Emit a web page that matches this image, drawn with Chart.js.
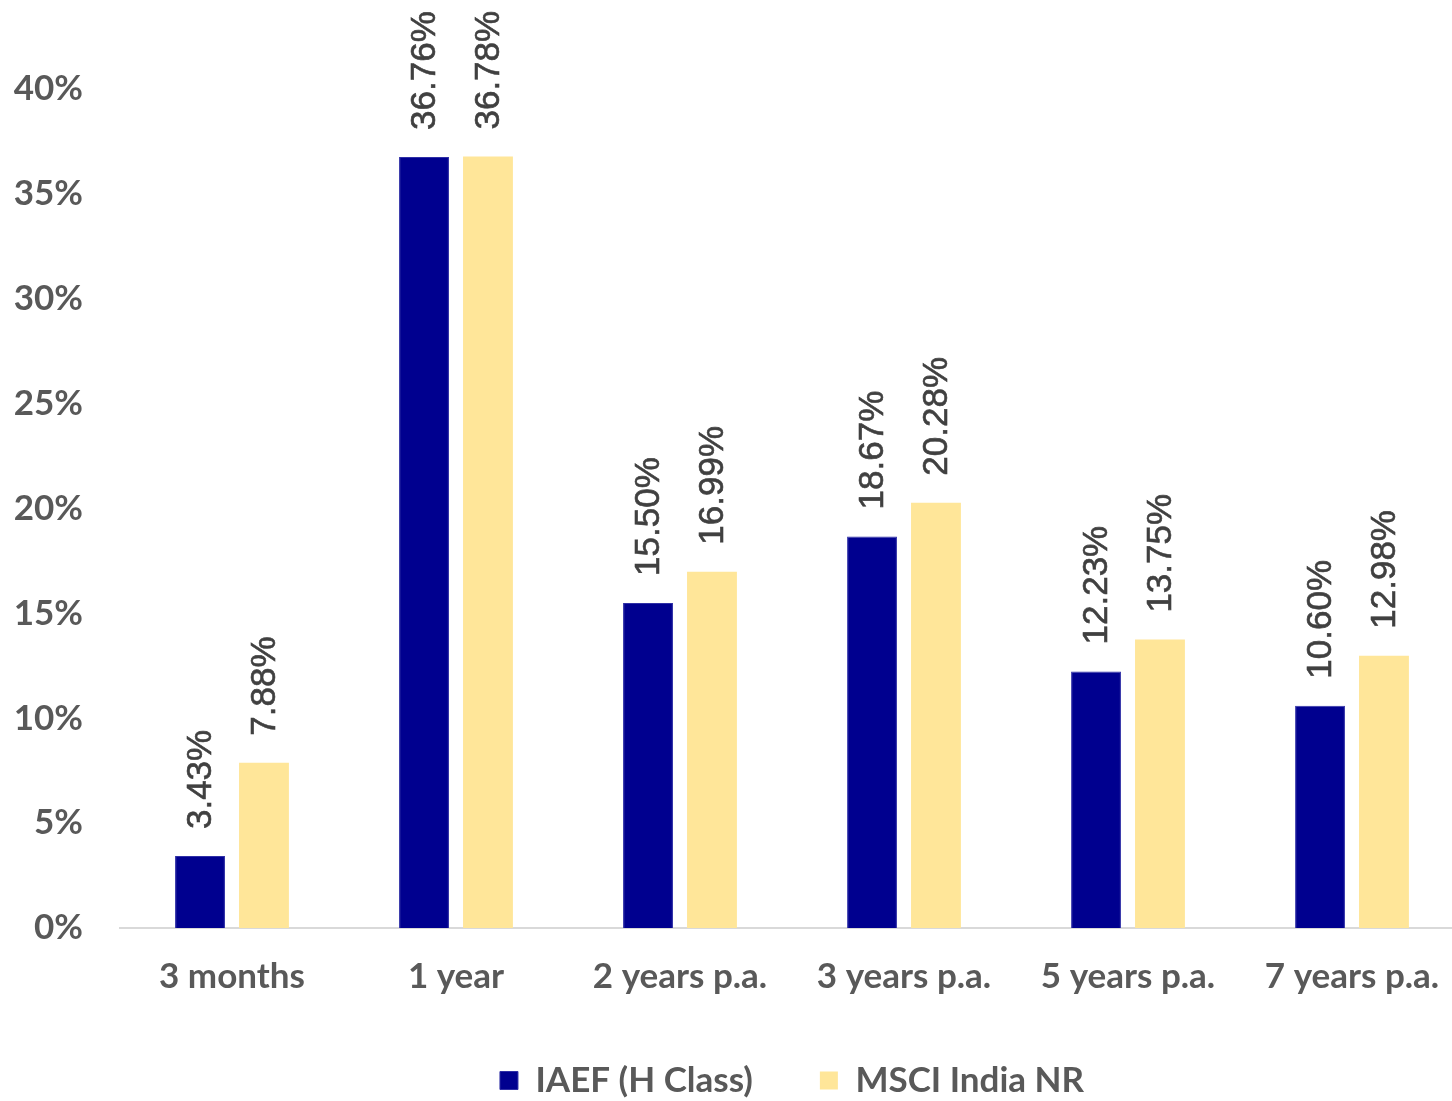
<!DOCTYPE html>
<html lang="en">
<head>
    <meta charset="UTF-8">
    <title>IAEF vs MSCI India NR</title>
    <script src="https://cdn.jsdelivr.net/npm/chart.js"></script>
    <style>
        body {
            margin: 0;
            overflow: hidden;
            background: #fff;
        }
        .chart-container {
            width: 1466px;
            height: 1101px;
        }
    </style>
</head>
<body>
    <div class="chart-container">
        <canvas id="returnsChart"></canvas>
    </div>

    <script>
        const periods = ['3 months', '1 year', '2 years p.a.', '3 years p.a.', '5 years p.a.', '7 years p.a.'];
        const iaefReturns = [3.43, 36.76, 15.50, 18.67, 12.23, 10.60];
        const msciReturns = [7.88, 36.78, 16.99, 20.28, 13.75, 12.98];
        const yTicks = [0, 5, 10, 15, 20, 25, 30, 35, 40];

        const textGrey = '#595959';
        const axisFont = { family: 'Lato', size: 35, weight: 'bold' };

        // value labels, rotated, on top of each bar
        const barLabels = {
            id: 'barLabels',
            afterDatasetsDraw(chart) {
                const ctx = chart.ctx;
                ctx.save();
                ctx.fillStyle = '#404040';
                ctx.strokeStyle = '#404040';
                ctx.lineWidth = 0.6;
                ctx.font = '35px "Liberation Sans Narrow", "Liberation Sans"';
                ctx.textAlign = 'left';
                ctx.textBaseline = 'middle';
                chart.data.datasets.forEach((ds, i) => {
                    chart.getDatasetMeta(i).data.forEach((bar, j) => {
                        const txt = ds.data[j].toFixed(2) + '%';
                        ctx.save();
                        ctx.translate(bar.x + 1, bar.y - 27);
                        ctx.rotate(-Math.PI / 2);
                        ctx.fillText(txt, 0, 0);
                        ctx.strokeText(txt, 0, 0);
                        ctx.restore();
                    });
                });
                ctx.restore();
            }
        };

        const ctx = document.getElementById('returnsChart').getContext('2d');
        new Chart(ctx, {
            type: 'bar',
            data: {
                labels: periods,
                datasets: [
                    {
                        label: 'IAEF (H Class)',
                        data: iaefReturns,
                        backgroundColor: '#00008F',
                        borderColor: '#2f2fa6',
                        borderWidth: 1
                    },
                    {
                        label: 'MSCI India NR',
                        data: msciReturns,
                        backgroundColor: '#FFE699'
                    }
                ]
            },
            options: {
                responsive: true,
                maintainAspectRatio: false,
                animation: false,
                layout: {
                    padding: { top: 89, right: 2, bottom: -7, left: 0 }
                },
                datasets: {
                    bar: {
                        categoryPercentage: 0.571,
                        barPercentage: 0.78
                    }
                },
                plugins: {
                    legend: {
                        position: 'bottom',
                        fullSize: false,
                        labels: {
                            color: textGrey,
                            font: axisFont,
                            boxWidth: 18,
                            boxHeight: 18,
                            padding: 67
                        }
                    },
                    tooltip: { enabled: false }
                },
                scales: {
                    x: {
                        grid: { display: false },
                        border: { display: true, color: '#d9d9d9', width: 2 },
                        afterFit(scale) {
                            scale.height = 68;
                        },
                        ticks: {
                            color: textGrey,
                            font: axisFont,
                            padding: 20,
                            maxRotation: 0
                        }
                    },
                    y: {
                        min: 0,
                        max: 40,
                        grid: { display: false },
                        border: { display: false },
                        afterFit(scale) {
                            scale.width = 120;
                        },
                        afterBuildTicks(scale) {
                            scale.ticks = yTicks.map(v => ({ value: v }));
                        },
                        ticks: {
                            color: textGrey,
                            font: axisFont,
                            padding: 29,
                            callback: v => v + '%'
                        }
                    }
                }
            },
            plugins: [barLabels]
        });
    </script>
</body>
</html>
